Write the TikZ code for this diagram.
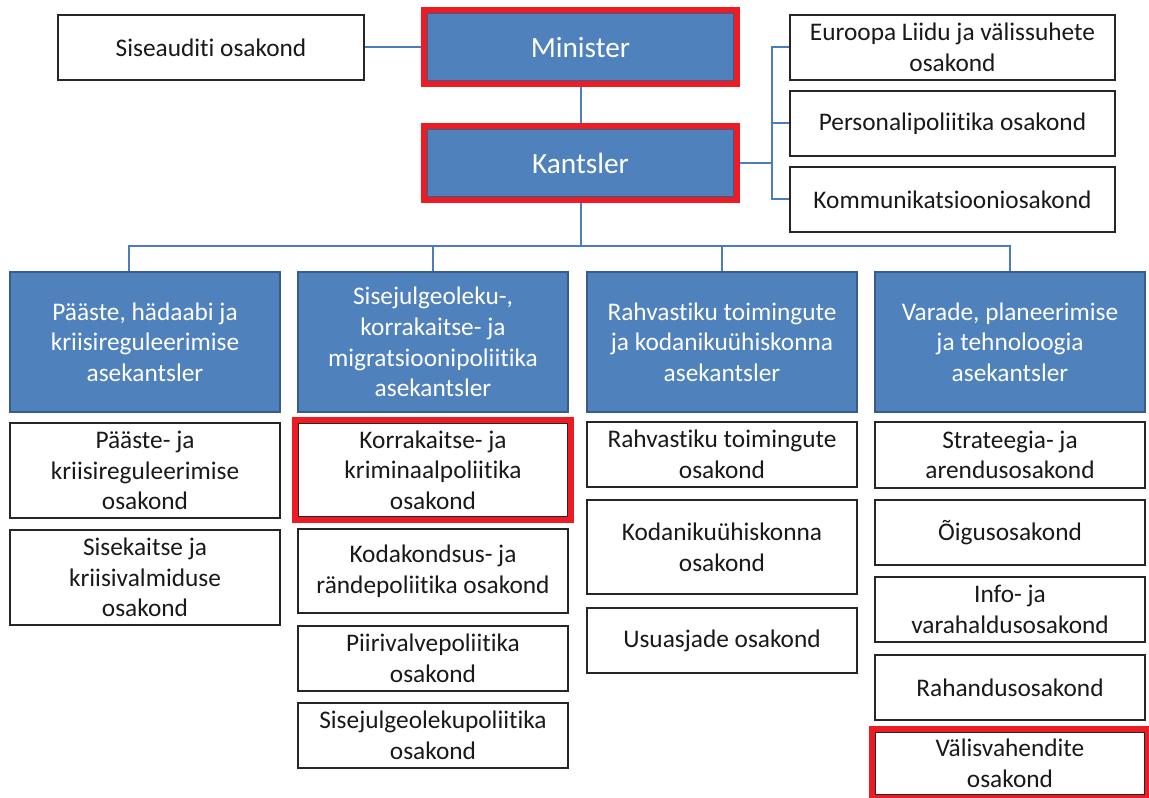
\documentclass[tikz,border=0pt]{standalone}
\usepackage{fontspec}
\setmainfont{Carlito}[Ligatures={NoCommon}]
\usetikzlibrary{fit}

\definecolor{blokblue}{RGB}{79,129,189}
\definecolor{blokedge}{RGB}{56,93,138}
\definecolor{linkblue}{RGB}{74,126,187}
\definecolor{hired}{RGB}{237,28,36}

\tikzset{every picture/.style={line width=0.75pt}}
\tikzset{
  wh/.style 2 args={minimum width=#1*0.75pt, minimum height=#2*0.75pt},
  blok/.style={draw=blokedge, line width=1.5pt, fill=blokblue, text=white, inner sep=0pt, align=center, font=\fontsize{19}{23}\selectfont},
  juht/.style={blok, font=\fontsize{22}{26}\selectfont},
  osak/.style={draw=black!85, line width=1.1pt, fill=white, text=black!90, inner sep=0pt, align=center, font=\fontsize{19}{23}\selectfont},
  link/.style={draw=linkblue, line width=1.5pt},
  esile/.style={draw=hired, line width=4.5pt, inner sep=1.5pt},
}

\begin{document}
\begin{tikzpicture}[x=0.75pt,y=0.75pt,yscale=-1,xscale=1]
\useasboundingbox (0,0) rectangle (1149,798);

%Shape: Rectangle -- top row
\node[osak, wh={306}{65}] (sis) at (211,47.5) {Siseauditi osakond};
\node[juht, wh={307}{68}] (min) at (580.5,47.5) {Minister};
\node[juht, wh={307}{68}] (kan) at (580.5,163.5) {Kantsler};
\node[osak, wh={325}{65}] (eu) at (952.5,47.5) {Euroopa Liidu ja välissuhete\\osakond};
\node[osak, wh={325}{65}] (per) at (952.5,123.5) {Personalipoliitika osakond};
\node[osak, wh={325}{65}] (kom) at (952.5,199.5) {Kommunikatsiooniosakond};

%Shape: Rectangle -- asekantslerid
\node[blok, wh={270}{140}] (as1) at (145,342) {Pääste, hädaabi ja\\kriisireguleerimise\\asekantsler};
\node[blok, wh={270}{140}] (as2) at (433,342) {Sisejulgeoleku-,\\korrakaitse- ja\\migratsioonipoliitika\\asekantsler};
\node[blok, wh={270}{140}] (as3) at (722,342) {Rahvastiku toimingute\\ja kodanikuühiskonna\\asekantsler};
\node[blok, wh={270}{140}] (as4) at (1010,342) {Varade, planeerimise\\ja tehnoloogia\\asekantsler};

%Shape: Rectangle -- osakonnad
\node[osak, wh={270}{95}] (o11) at (145,470.5) {Pääste- ja\\kriisireguleerimise\\osakond};
\node[osak, wh={270}{95}] (o12) at (145,577.5) {Sisekaitse ja\\kriisivalmiduse\\osakond};

\node[osak, wh={270}{94}] (o21) at (433,470) {Korrakaitse- ja\\kriminaalpoliitika\\osakond};
\node[osak, wh={270}{84}] (o22) at (433,571) {Kodakondsus- ja\\rändepoliitika osakond};
\node[osak, wh={270}{65}] (o23) at (433,658.5) {Piirivalvepoliitika\\osakond};
\node[osak, wh={270}{65}] (o24) at (433,735.5) {Sisejulgeolekupoliitika\\osakond};

\node[osak, wh={270}{65}] (o31) at (722,454.5) {Rahvastiku toimingute\\osakond};
\node[osak, wh={270}{94}] (o32) at (722,547) {Kodanikuühiskonna\\osakond};
\node[osak, wh={270}{65}] (o33) at (722,640.5) {Usuasjade osakond};

\node[osak, wh={270}{66}] (o41) at (1010,455) {Strateegia- ja\\arendusosakond};
\node[osak, wh={270}{65}] (o42) at (1010,532.5) {Õigusosakond};
\node[osak, wh={270}{65}] (o43) at (1010,609.5) {Info- ja\\varahaldusosakond};
\node[osak, wh={270}{65}] (o44) at (1010,687.5) {Rahandusosakond};
\node[osak, wh={270}{63}] (o45) at (1010,763.5) {Välisvahendite\\osakond};

%Straight Lines
\coordinate (bus) at (0,246);
\coordinate (spine) at (772,0);
\draw[link] (sis) -- (min);
\draw[link] (min) -- (kan);
\draw[link] (kan) -- (kan |- bus);
\draw[link] ([xshift=-12pt]as1.north) |- (as4.north |- bus) -- (as4.north);
\draw[link] (as2) -- (as2 |- bus);
\draw[link] (as3) -- (as3 |- bus);
\draw[link] (kan) -- (kan -| spine);
\draw[link] (eu) -| (spine |- kom) -- (kom);
\draw[link] (per) -- (per -| spine);

%Shape: Rectangle -- red frames
\node[esile, fit=(min)] (minraam) {};
\node[esile, fit=(kan)] (kanraam) {};
\node[esile, fit=(o21)] (o21raam) {};
\node[esile, fit=(o45)] (o45raam) {};

\end{tikzpicture}
\end{document}
